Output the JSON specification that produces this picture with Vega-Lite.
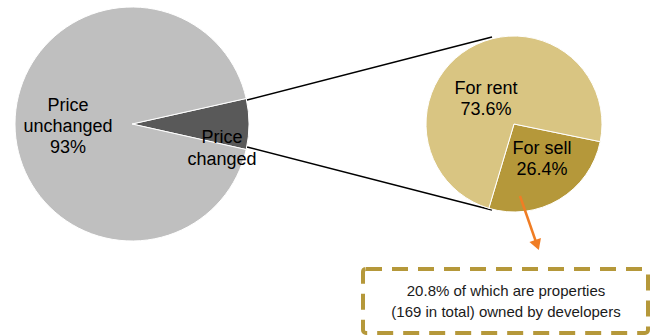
{
  "$schema": "https://vega.github.io/schema/vega-lite/v6.json",
  "width": 656,
  "height": 336,
  "padding": 0,
  "autosize": {"type": "fit", "contains": "padding"},
  "background": "white",
  "config": {"view": {"stroke": null}, "text": {"font": "Liberation Sans"}},
  "datasets": {
    "left": [
      {"label": "Price changed", "value": 7, "ord": 1},
      {"label": "Price unchanged", "value": 93, "ord": 2}
    ],
    "right": [
      {"label": "For sell", "value": 26.4, "ord": 1},
      {"label": "For rent", "value": 73.6, "ord": 2}
    ],
    "one": [{"n": 1}]
  },
  "data": {"name": "one"},
  "resolve": {"scale": {"theta": "independent"}},
  "layer": [
    {
      "mark": {"type": "rule", "color": "black", "strokeWidth": 1.5},
      "encoding": {
        "x": {"datum": 247, "type": "quantitative", "scale": {"domain": [0, 656], "nice": false, "zero": false}, "axis": null},
        "y": {"datum": 100, "type": "quantitative", "scale": {"domain": [336, 0], "nice": false, "zero": false}, "axis": null},
        "x2": {"datum": 492},
        "y2": {"datum": 37}
      }
    },
    {
      "mark": {"type": "rule", "color": "black", "strokeWidth": 1.5},
      "encoding": {
        "x": {"datum": 247, "type": "quantitative", "scale": {"domain": [0, 656], "nice": false, "zero": false}, "axis": null},
        "y": {"datum": 147, "type": "quantitative", "scale": {"domain": [336, 0], "nice": false, "zero": false}, "axis": null},
        "x2": {"datum": 492},
        "y2": {"datum": 210}
      }
    },
    {
      "data": {"name": "left"},
      "mark": {"type": "arc", "radius": 117, "stroke": "white", "strokeWidth": 1},
      "encoding": {
        "x": {"datum": 132, "type": "quantitative", "scale": {"domain": [0, 656], "nice": false, "zero": false}, "axis": null},
        "y": {"datum": 124, "type": "quantitative", "scale": {"domain": [336, 0], "nice": false, "zero": false}, "axis": null},
        "theta": {"field": "value", "type": "quantitative", "stack": true, "scale": {"domain": [0, 100], "range": [1.351, 7.634]}},
        "order": {"field": "ord"},
        "color": {"field": "label", "type": "nominal", "legend": null,
          "scale": {"domain": ["Price changed", "Price unchanged", "For sell", "For rent"], "range": ["#595959", "#BFBFBF", "#B5983A", "#D9C582"]}}
      }
    },
    {
      "data": {"name": "right"},
      "mark": {"type": "arc", "radius": 88, "stroke": "white", "strokeWidth": 1},
      "encoding": {
        "x": {"datum": 514, "type": "quantitative", "scale": {"domain": [0, 656], "nice": false, "zero": false}, "axis": null},
        "y": {"datum": 124, "type": "quantitative", "scale": {"domain": [336, 0], "nice": false, "zero": false}, "axis": null},
        "theta": {"field": "value", "type": "quantitative", "stack": true, "scale": {"domain": [0, 100], "range": [1.773, 8.056]}},
        "order": {"field": "ord"},
        "color": {"field": "label", "type": "nominal", "legend": null}
      }
    },
    {
      "mark": {"type": "text", "lineBreak": "\n", "fontSize": 18, "lineHeight": 21, "baseline": "middle", "align": "center", "color": "black"},
      "encoding": {
        "x": {"datum": 68, "type": "quantitative", "scale": {"domain": [0, 656], "nice": false, "zero": false}, "axis": null},
        "y": {"datum": 106, "type": "quantitative", "scale": {"domain": [336, 0], "nice": false, "zero": false}, "axis": null},
        "text": {"value": "Price\nunchanged\n93%"}
      }
    },
    {
      "mark": {"type": "text", "lineBreak": "\n", "fontSize": 18, "lineHeight": 22, "baseline": "middle", "align": "center", "color": "black"},
      "encoding": {
        "x": {"datum": 222, "type": "quantitative", "scale": {"domain": [0, 656], "nice": false, "zero": false}, "axis": null},
        "y": {"datum": 138, "type": "quantitative", "scale": {"domain": [336, 0], "nice": false, "zero": false}, "axis": null},
        "text": {"value": "Price\nchanged"}
      }
    },
    {
      "mark": {"type": "text", "lineBreak": "\n", "fontSize": 18, "lineHeight": 21, "baseline": "middle", "align": "center", "color": "black"},
      "encoding": {
        "x": {"datum": 486, "type": "quantitative", "scale": {"domain": [0, 656], "nice": false, "zero": false}, "axis": null},
        "y": {"datum": 89, "type": "quantitative", "scale": {"domain": [336, 0], "nice": false, "zero": false}, "axis": null},
        "text": {"value": "For rent\n73.6%"}
      }
    },
    {
      "mark": {"type": "text", "lineBreak": "\n", "fontSize": 18, "lineHeight": 21, "baseline": "middle", "align": "center", "color": "black"},
      "encoding": {
        "x": {"datum": 542, "type": "quantitative", "scale": {"domain": [0, 656], "nice": false, "zero": false}, "axis": null},
        "y": {"datum": 149, "type": "quantitative", "scale": {"domain": [336, 0], "nice": false, "zero": false}, "axis": null},
        "text": {"value": "For sell\n26.4%"}
      }
    },
    {
      "mark": {"type": "rule", "color": "#F07D24", "strokeWidth": 2.5},
      "encoding": {
        "x": {"datum": 520, "type": "quantitative", "scale": {"domain": [0, 656], "nice": false, "zero": false}, "axis": null},
        "y": {"datum": 196, "type": "quantitative", "scale": {"domain": [336, 0], "nice": false, "zero": false}, "axis": null},
        "x2": {"datum": 536},
        "y2": {"datum": 242}
      }
    },
    {
      "mark": {"type": "point", "shape": "triangle-up", "filled": true, "color": "#F07D24", "size": 150, "angle": 160, "opacity": 1},
      "encoding": {
        "x": {"datum": 537, "type": "quantitative", "scale": {"domain": [0, 656], "nice": false, "zero": false}, "axis": null},
        "y": {"datum": 245, "type": "quantitative", "scale": {"domain": [336, 0], "nice": false, "zero": false}, "axis": null}
      }
    },
    {
      "mark": {"type": "rect", "fill": null, "fillOpacity": 0, "stroke": "#B5983A", "strokeWidth": 4, "strokeDash": [16, 10], "cornerRadius": 3},
      "encoding": {
        "x": {"datum": 363, "type": "quantitative", "scale": {"domain": [0, 656], "nice": false, "zero": false}, "axis": null},
        "y": {"datum": 269, "type": "quantitative", "scale": {"domain": [336, 0], "nice": false, "zero": false}, "axis": null},
        "x2": {"datum": 648},
        "y2": {"datum": 333}
      }
    },
    {
      "mark": {"type": "text", "lineBreak": "\n", "fontSize": 15, "lineHeight": 21, "baseline": "middle", "align": "center", "color": "#1a1a1a"},
      "encoding": {
        "x": {"datum": 506, "type": "quantitative", "scale": {"domain": [0, 656], "nice": false, "zero": false}, "axis": null},
        "y": {"datum": 291, "type": "quantitative", "scale": {"domain": [336, 0], "nice": false, "zero": false}, "axis": null},
        "text": {"value": "20.8% of which are properties\n(169 in total) owned by developers"}
      }
    }
  ]
}
